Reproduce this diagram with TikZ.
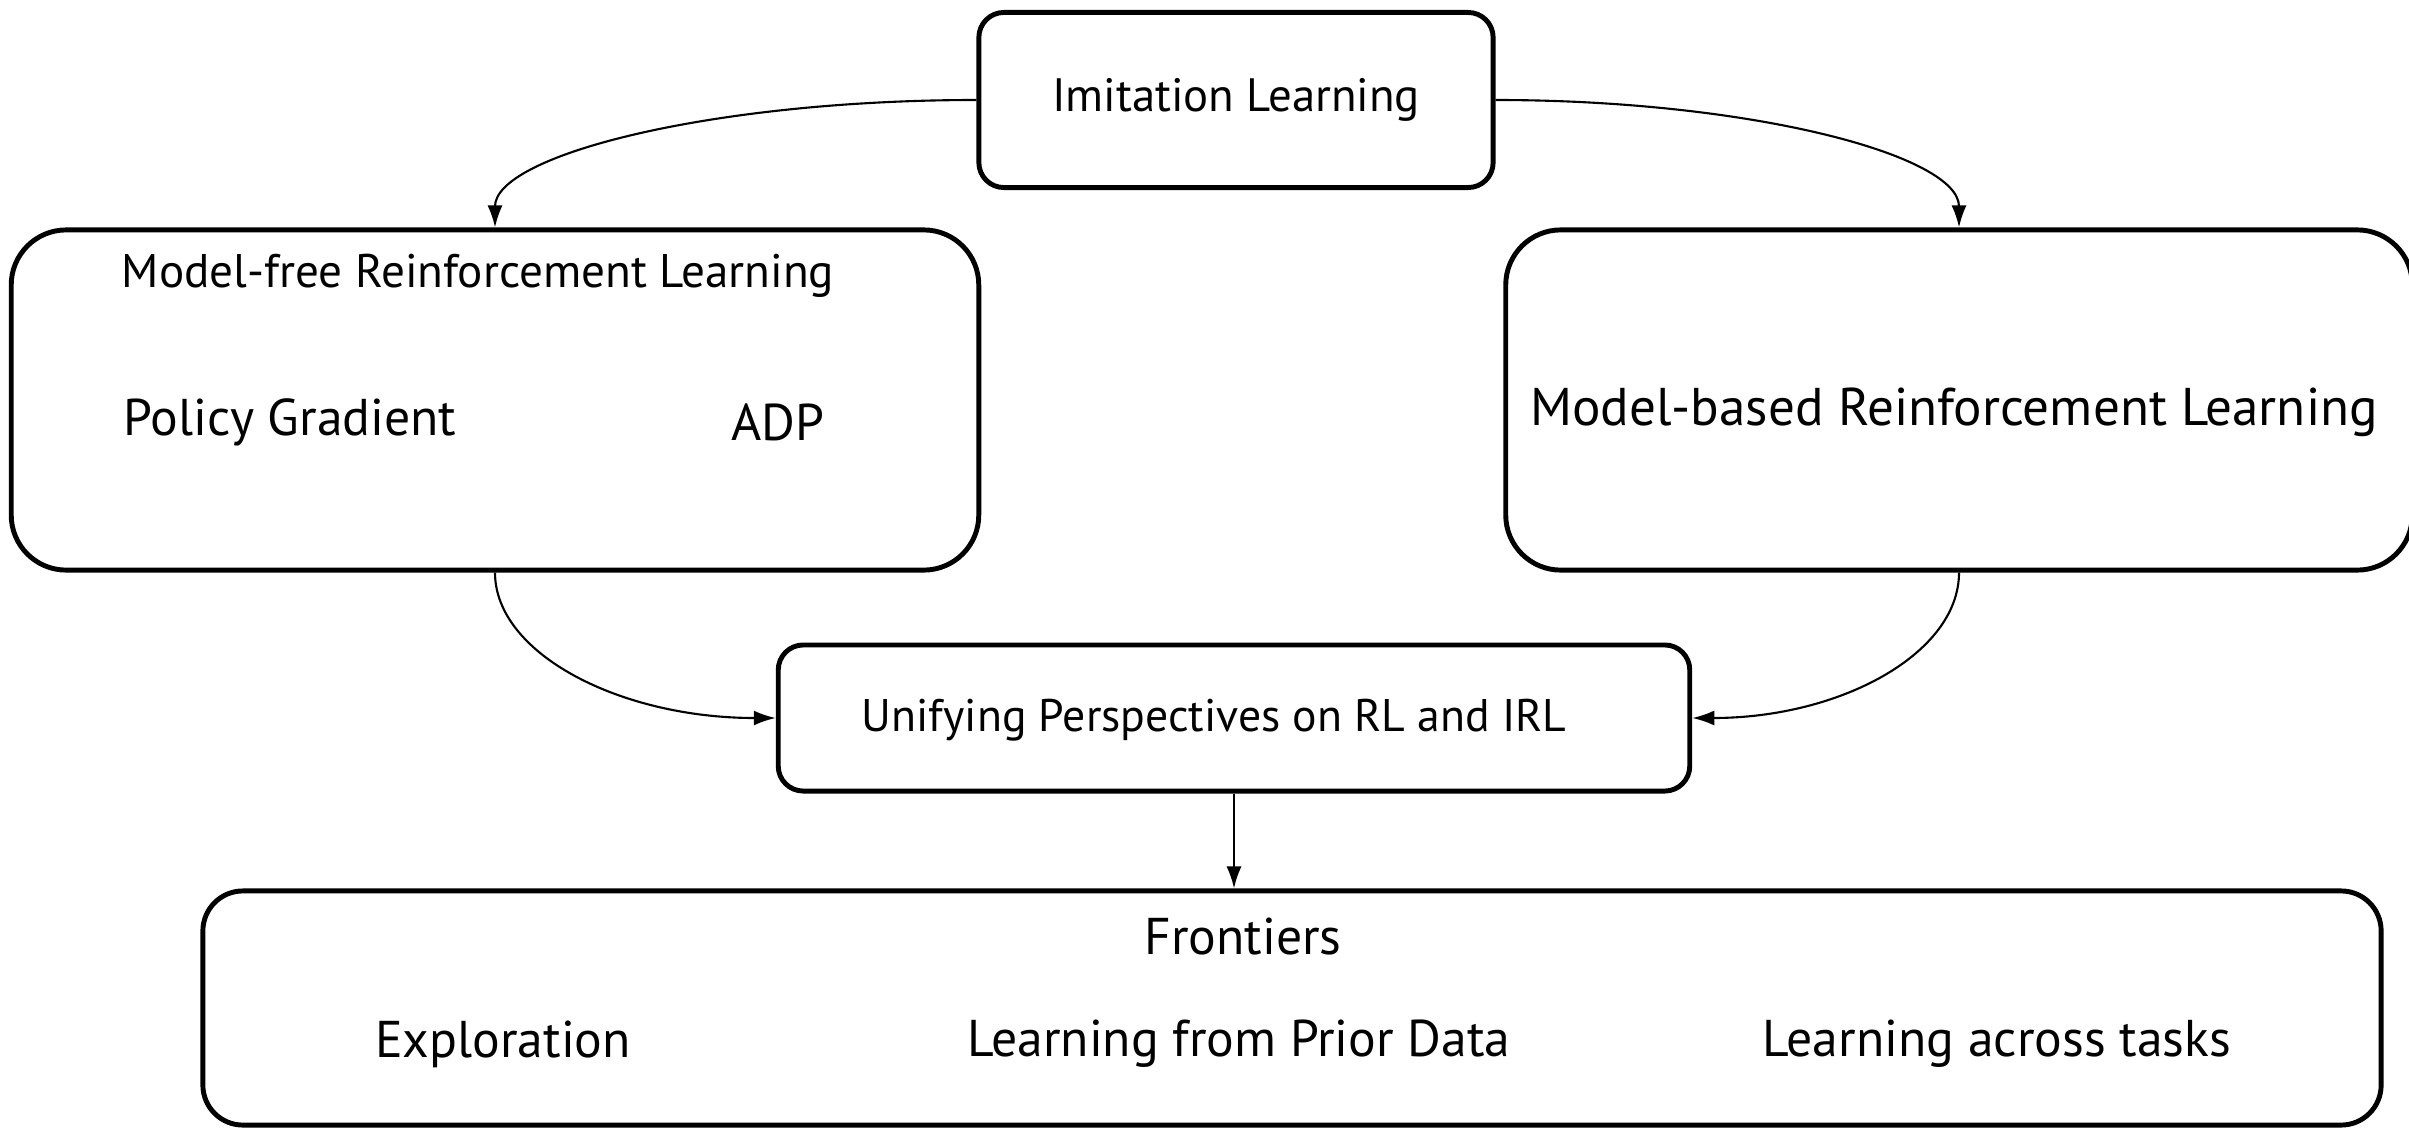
\documentclass[tikz,border=0pt]{standalone}
\usepackage{fontspec}
\setmainfont{PT Sans}
\usetikzlibrary{arrows.meta,positioning}

\begin{document}
\begin{tikzpicture}[x=0.01cm, y=-0.01cm,
    block/.style={rectangle, draw, line width=1.4pt, rounded corners=0.45cm, inner sep=0pt},
    txt/.style={inner sep=0pt, font=\fontsize{13.3}{15}\selectfont},
    bigtxt/.style={inner sep=0pt, font=\fontsize{14.7}{17}\selectfont},
    arrow/.style={-{Latex[length=2.2mm,width=1.5mm]}, line width=0.6pt}]

    \useasboundingbox (0,0) rectangle (2409,1127);

    % boxes
    \node[block, rounded corners=0.25cm, minimum width=5.14cm, minimum height=1.75cm, txt] (imitation) at (1236,100) {Imitation Learning};
    \node[block, rounded corners=0.55cm, minimum width=9.67cm, minimum height=3.4cm] (modelfree) at (495,400) {};
    \node[block, rounded corners=0.55cm, minimum width=9.06cm, minimum height=3.4cm] (modelbased) at (1959,400) {};
    \node[block, rounded corners=0.25cm, minimum width=9.11cm, minimum height=1.46cm] (unifying) at (1234,718) {};
    \node[block, rounded corners=0.4cm, minimum width=21.77cm, minimum height=2.34cm] (frontiers) at (1292,1008) {};

    % texts inside the boxes
    \node[txt, font=\fontsize{13.4}{15}\selectfont] (mftitle) at (478,276) {Model-free Reinforcement Learning};
    \node[bigtxt] (pg) at (290,422) {Policy Gradient};
    \node[bigtxt] (adp) at (778,422) {ADP};
    \node[bigtxt, font=\fontsize{15.1}{17}\selectfont] (mbtitle) at (1954,412) {Model-based Reinforcement Learning};
    \node[txt, font=\fontsize{13}{15}\selectfont] (unititle) at (1214,720) {Unifying Perspectives on RL and IRL};
    \node[bigtxt] (ftitle) at (1243,936) {Frontiers};
    \node[bigtxt] (explore) at (503,1044) {Exploration};
    \node[bigtxt] (prior) at (1239,1044) {Learning from Prior Data};
    \node[bigtxt] (tasks) at (1997,1044) {Learning across tasks};

    % connectors
    \draw[arrow] (imitation.west) .. controls +(-266,0) and +(0,-72) .. (modelfree.north);
    \draw[arrow] (imitation.east) .. controls +(256,0) and +(0,-72) .. (modelbased.north);
    \draw[arrow] (modelfree.south) .. controls +(0,81) and +(-156,0) .. (unifying.west);
    \draw[arrow] (modelbased.south) .. controls +(0,81) and +(148,0) .. (unifying.east);
    \draw[arrow] (unifying.south) -- (unifying.south |- frontiers.north);

\end{tikzpicture}
\end{document}
